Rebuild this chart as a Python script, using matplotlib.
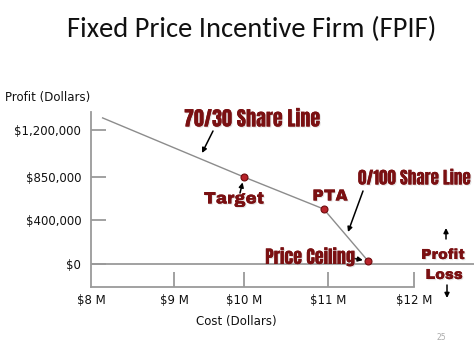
import numpy as np
import matplotlib
matplotlib.use("Agg")
import matplotlib.pyplot as plt
import matplotlib.patheffects as pe
import logging

logging.getLogger("matplotlib.font_manager").setLevel(logging.ERROR)

# data
cost_ticks = [8, 9, 10, 11, 12]
cost_labels = ["$8 M", "$9 M", "$10 M", "$11 M", "$12 M"]
profit_ticks = [0, 400000, 850000, 1200000]
profit_labels = ["$0", "$400,000", "$850,000", "$1,200,000"]

share_cost = [8.14, 10.0, 10.95, 11.47]
share_profit = [1290000, 850000, 515000, 25000]
point_names = ["", "Target", "PTA", "Price Ceiling"]

# the slide's axes are schematic, so tick spacing is uneven
x_pos = [0, 83, 153, 237, 323]
y_pos = [0, 44, 87, 134]


def piecewise(vals, pos):
    vals = np.asarray(vals, float)
    pos = np.asarray(pos, float)

    def lin(v, a, b):
        v = np.asarray(v, float)
        out = np.interp(v, a, b)
        s0 = (b[1] - b[0]) / (a[1] - a[0])
        s1 = (b[-1] - b[-2]) / (a[-1] - a[-2])
        out = np.where(v < a[0], b[0] + (v - a[0]) * s0, out)
        out = np.where(v > a[-1], b[-1] + (v - a[-1]) * s1, out)
        return out

    return (lambda v: lin(v, vals, pos)), (lambda p: lin(p, pos, vals))


W, H = 474, 355
fig = plt.figure(figsize=(W / 100, H / 100), dpi=100)
ax = fig.add_axes([91 / W, (H - 287) / H, (W - 91) / W, (287 - 112) / H])

ax.set_xscale("function", functions=piecewise(cost_ticks, x_pos))
ax.set_yscale("function", functions=piecewise(profit_ticks, y_pos))
ax.set_xlim(8, 12.70)
ax.set_ylim(-209000, 1334000)

grey = "#9a9a9a"
for s in ["top", "right"]:
    ax.spines[s].set_visible(False)
for s in ["left", "bottom"]:
    ax.spines[s].set_color(grey)
    ax.spines[s].set_linewidth(1.3)
ax.spines["bottom"].set_bounds(8, 12)
ax.axhline(0, color=grey, lw=1.3, zorder=1)

ax.set_xticks(cost_ticks, cost_labels)
ax.set_yticks(profit_ticks, profit_labels)
ax.tick_params(axis="both", direction="in", length=11, width=1.3, color=grey,
               labelsize=8.5, labelcolor="#111111")
ax.tick_params(axis="y", pad=7)
ax.tick_params(axis="x", pad=5)
ax.xaxis.get_major_ticks()[0].tick1line.set_visible(False)

ax.plot(share_cost, share_profit, color="#8c8c8c", lw=1, zorder=2)
ax.plot(share_cost[1:], share_profit[1:], "o", ms=5, mfc="#b8232a",
        mec="#6e0c0e", mew=0.8, zorder=3)

red = "#7a1012"
shadow = [pe.withSimplePatchShadow(offset=(0.8, -0.8), shadow_rgbFace="#b0b0b0", alpha=0.35),
          pe.Normal()]
narrow = dict(family=["Anton", "Oswald", "Roboto Condensed", "Archivo Narrow",
                      "Liberation Sans Narrow", "DejaVu Sans"],
              color=red, path_effects=shadow)
wide = dict(family=["Archivo Black", "Arimo", "Liberation Sans", "DejaVu Sans"],
            fontweight="heavy", color=red, path_effects=shadow)
arrow = dict(arrowstyle="-|>", color="black", lw=1.1, mutation_scale=7, shrinkA=0, shrinkB=0)

fp = "figure pixels"
ax.annotate("", xy=(202, H - 153), xycoords=fp, xytext=(213, H - 131), textcoords=fp,
            arrowprops=arrow)
fig.text(252 / W, 1 - 119 / H, "70/30 Share Line", ha="center", va="center",
         fontsize=14.5, **narrow)

ax.annotate("", xy=(share_cost[1], share_profit[1]), xytext=(240, H - 193),
            textcoords=fp, arrowprops=dict(arrow, shrinkB=4))
fig.text(234 / W, 1 - 199 / H, point_names[1], ha="center", va="center",
         fontsize=12, **wide)

fig.text(330 / W, 1 - 196 / H, point_names[2], ha="center", va="center",
         fontsize=11.5, **wide)

ax.annotate("", xy=(348, H - 232), xycoords=fp, xytext=(363, H - 191), textcoords=fp,
            arrowprops=arrow)
fig.text(358 / W, 1 - 178 / H, "0/100 Share Line", ha="left", va="center",
         fontsize=12.3, **narrow)

ax.annotate("", xy=(share_cost[3], share_profit[3]), xytext=(352, H - 258),
            textcoords=fp, arrowprops=dict(arrow, shrinkB=4))
fig.text(310 / W, 1 - 257 / H, point_names[3], ha="center", va="center",
         fontsize=13, **narrow)

fig.text(443 / W, 1 - 255 / H, "Profit", ha="center", va="center", fontsize=10.5, **wide)
fig.text(444 / W, 1 - 275 / H, "Loss", ha="center", va="center", fontsize=10.5, **wide)
ax.annotate("", xy=(446, H - 228), xycoords=fp, xytext=(446, H - 239), textcoords=fp,
            arrowprops=arrow)
ax.annotate("", xy=(447, H - 298), xycoords=fp, xytext=(447, H - 285), textcoords=fp,
            arrowprops=arrow)

fig.text(252 / W, 1 - 29 / H, "Fixed Price Incentive Firm (FPIF)", ha="center",
         va="center", fontsize=20.5, family=["Carlito", "Lato", "DejaVu Sans"],
         color="#111111")
fig.text(5 / W, 1 - 97 / H, "Profit (Dollars)", ha="left", va="center", fontsize=8.5,
         color="#111111")
fig.text(236 / W, 1 - 322 / H, "Cost (Dollars)", ha="center", va="center", fontsize=8.5,
         color="#111111")
fig.text(441 / W, 1 - 338 / H, "25", ha="center", va="center", fontsize=5.5,
         color="#aaaaaa")

fig.savefig("out.png", dpi=100)
